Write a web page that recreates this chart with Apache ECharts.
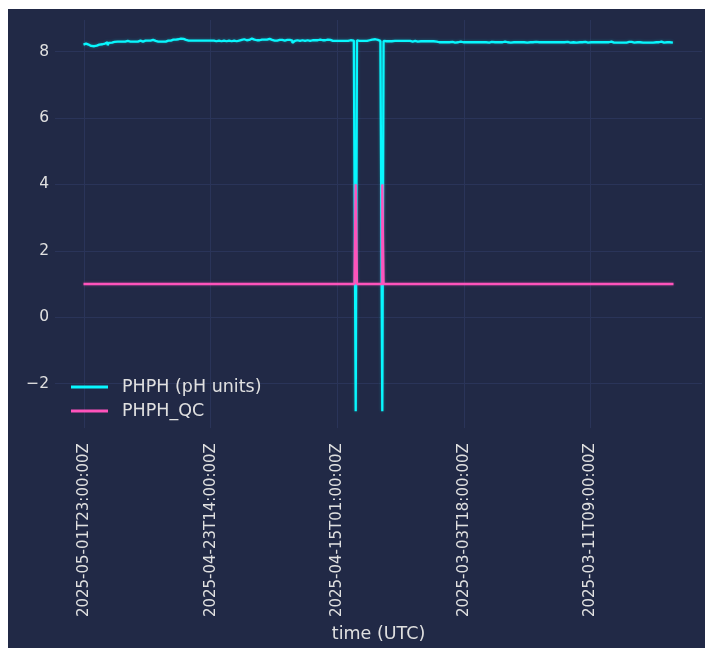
<!DOCTYPE html>
<html>
<head>
<meta charset="utf-8">
<script src="https://cdn.jsdelivr.net/npm/echarts@6/dist/echarts.min.js"></script>
<style>
html,body{margin:0;padding:0;background:#ffffff;}
#chart{width:705px;height:648px;}
</style>
</head>
<body>
<div id="chart"></div>
<script>
// ---- data ----
const tickLabels = [
  '2025-05-01T23:00:00Z',
  '2025-04-23T14:00:00Z',
  '2025-04-15T01:00:00Z',
  '2025-03-03T18:00:00Z',
  '2025-03-11T09:00:00Z'
];
const phValues = [
  8.21,8.23,8.24,8.23,8.21,8.19,8.17,8.16,8.16,8.17,
  8.18,8.19,8.21,8.22,8.22,8.23,8.24,8.25,8.28,8.19,
  8.26,8.27,8.27,8.28,8.29,8.30,8.30,8.29,8.30,8.31,
  8.31,8.30,8.29,8.30,8.31,8.32,8.31,8.30,8.30,8.31,
  8.30,8.29,8.30,8.32,8.33,8.31,8.30,8.32,8.33,8.34,
  8.33,8.32,8.33,8.34,8.35,8.34,8.32,8.31,8.30,8.30,
  8.29,8.30,8.31,8.30,8.29,8.30,8.32,8.33,8.34,8.33,
  8.34,8.36,8.37,8.36,8.35,8.37,8.38,8.39,8.40,8.38,
  8.36,8.35,8.34,8.33,8.33,8.34,8.33,8.32,8.33,8.34,
  8.33,8.32,8.33,8.34,8.33,8.32,8.33,8.34,8.33,8.32,
  8.33,8.32,8.33,8.32,8.31,8.32,8.33,8.32,8.31,8.32,
  8.33,8.32,8.31,8.32,8.33,8.32,8.31,8.32,8.33,8.32,
  8.31,8.32,8.33,8.34,8.35,8.36,8.37,8.36,8.34,8.33,
  8.35,8.37,8.39,8.38,8.36,8.35,8.34,8.33,8.34,8.35,
  8.36,8.37,8.36,8.35,8.36,8.37,8.38,8.37,8.35,8.34,
  8.33,8.32,8.33,8.34,8.35,8.36,8.35,8.34,8.33,8.34,
  8.35,8.36,8.35,8.34,8.33,8.26,8.32,8.33,8.34,8.33,
  8.32,8.33,8.34,8.33,8.32,8.33,8.34,8.33,8.32,8.33,
  8.34,8.35,8.34,8.33,8.34,8.35,8.36,8.35,8.34,8.33,
  8.34,8.35,8.36,8.37,8.35,8.33,8.32,8.31,8.32,8.31,
  8.32,8.33,8.32,8.32,8.33,8.32,8.31,8.32,8.32,8.33,
  8.33,8.34,8.33,8.33,8.34,-2.83,8.34,8.33,8.32,8.32,
  8.31,8.31,8.32,8.31,8.32,8.33,8.34,8.35,8.36,8.37,
  8.37,8.36,8.35,8.33,8.32,8.32,-2.83,8.32,8.31,8.31,
  8.32,8.31,8.30,8.31,8.32,8.32,8.33,8.32,8.31,8.32,
  8.32,8.33,8.32,8.31,8.32,8.32,8.31,8.31,8.32,8.31,
  8.30,8.31,8.32,8.31,8.30,8.31,8.31,8.32,8.31,8.30,
  8.31,8.32,8.31,8.30,8.31,8.32,8.31,8.31,8.30,8.29,
  8.28,8.28,8.29,8.28,8.28,8.29,8.28,8.27,8.28,8.28,
  8.29,8.29,8.28,8.27,8.27,8.28,8.29,8.30,8.29,8.28,
  8.28,8.27,8.28,8.28,8.29,8.28,8.27,8.27,8.28,8.29,
  8.28,8.28,8.27,8.27,8.28,8.28,8.27,8.28,8.28,8.27,
  8.27,8.28,8.29,8.28,8.28,8.27,8.27,8.28,8.28,8.27,
  8.28,8.29,8.30,8.29,8.28,8.28,8.27,8.27,8.28,8.28,
  8.27,8.27,8.28,8.29,8.28,8.28,8.27,8.28,8.28,8.27,
  8.27,8.28,8.28,8.27,8.27,8.28,8.29,8.29,8.28,8.28,
  8.27,8.28,8.28,8.27,8.28,8.28,8.27,8.28,8.28,8.27,
  8.28,8.28,8.29,8.28,8.28,8.27,8.28,8.28,8.27,8.27,
  8.28,8.29,8.29,8.28,8.27,8.27,8.28,8.28,8.27,8.27,
  8.28,8.28,8.27,8.27,8.28,8.29,8.29,8.28,8.27,8.27,
  8.28,8.28,8.27,8.28,8.28,8.27,8.27,8.28,8.28,8.27,
  8.27,8.28,8.28,8.27,8.27,8.28,8.29,8.30,8.28,8.27,
  8.27,8.28,8.27,8.26,8.27,8.28,8.28,8.27,8.27,8.28,
  8.28,8.29,8.30,8.29,8.28,8.27,8.28,8.28,8.27,8.28,
  8.28,8.27,8.26,8.26,8.27,8.27,8.26,8.27,8.28,8.28,
  8.27,8.28,8.28,8.27,8.28,8.29,8.30,8.28,8.27,8.27,
  8.28,8.28,8.29,8.28,8.27,8.27
];
// QC flag as runs: [count, value]
const qcRuns = [[215, 1], [1, 4], [20, 1], [1, 4], [229, 1]];
const seriesNames = ['PHPH (pH units)', 'PHPH_QC'];
const yTicks = [-2, 0, 2, 4, 6, 8];

// ---- build ----
const STEP = 100;   // observations between labelled ticks
const PAD = 23;     // empty slots (axis margin) on each side
const qcValues = [];
qcRuns.forEach(([n, v]) => { for (let k = 0; k < n; k++) qcValues.push(v); });

const categories = [];
for (let i = -PAD; i < phValues.length + PAD; i++) {
  if (i >= 0 && i % STEP === 0 && i / STEP < tickLabels.length) categories.push(tickLabels[i / STEP]);
  else categories.push('obs#' + i);
}
const padArr = new Array(PAD).fill('-');
const phData = padArr.concat(phValues, padArr);
const qcData = padArr.concat(qcValues, padArr);

const isTick = (idx, val) => tickLabels.indexOf(val) >= 0;

const BG = '#212946';
const GRID = '#2A3459';
const TXT = '#e0e0e0';
const CYAN = '#08F7FE';
const PINK = '#FE53BB';
const FONT = 'DejaVu Sans';

const chart = echarts.init(document.getElementById('chart'), null, {renderer: 'canvas'});
chart.setOption({
  backgroundColor: '#ffffff',
  animation: false,
  graphic: [{
    type: 'rect', z: -10, silent: true,
    shape: {x: 8, y: 9, width: 697, height: 639},
    style: {fill: BG}
  }],
  grid: {left: 55, right: 3, top: 20, bottom: 215, containLabel: false},
  legend: {
    orient: 'vertical',
    left: 71, top: 377,
    padding: 0,
    itemWidth: 37, itemHeight: 3, itemGap: 4,
    icon: 'rect',
    data: seriesNames,
    textStyle: {color: TXT, fontFamily: FONT, fontSize: 17.5, lineHeight: 20, padding: [0, 0, 0, 9]}
  },
  xAxis: {
    type: 'category',
    data: categories,
    boundaryGap: false,
    name: 'time (UTC)',
    nameLocation: 'middle',
    nameGap: 192,
    nameTextStyle: {color: TXT, fontFamily: FONT, fontSize: 17.5},
    axisLine: {show: false},
    axisTick: {show: false, interval: isTick},
    axisLabel: {
      interval: isTick,
      rotate: 90,
      margin: 15,
      color: TXT, fontFamily: FONT, fontSize: 15
    },
    splitLine: {show: true, interval: isTick, lineStyle: {color: GRID, width: 1}}
  },
  yAxis: {
    type: 'value',
    min: -3.34, max: 8.95, splitNumber: 5,
    axisLine: {show: false},
    axisTick: {show: false},
    axisLabel: {
      showMinLabel: false, showMaxLabel: false,
      margin: 6,
      color: TXT, fontFamily: FONT, fontSize: 15.5,
      formatter: v => (yTicks.indexOf(v) >= 0 ? String(v).replace('-', '\u2212') : '')
    },
    splitLine: {show: true, showMinLine: false, showMaxLine: false, lineStyle: {color: GRID, width: 1}}
  },
  series: [
    {
      name: seriesNames[0], type: 'line', data: phData,
      step: 'middle',
      showSymbol: false, symbol: 'none',
      itemStyle: {color: CYAN},
      lineStyle: {color: CYAN, width: 2.3, shadowBlur: 3, shadowColor: 'rgba(8,247,254,0.35)'},
      z: 2
    },
    {
      name: seriesNames[1], type: 'line', data: qcData,
      step: 'middle',
      showSymbol: false, symbol: 'none',
      itemStyle: {color: PINK},
      lineStyle: {color: PINK, width: 2.3, shadowBlur: 3, shadowColor: 'rgba(254,83,187,0.35)'},
      z: 3
    }
  ]
});
</script>
</body>
</html>
